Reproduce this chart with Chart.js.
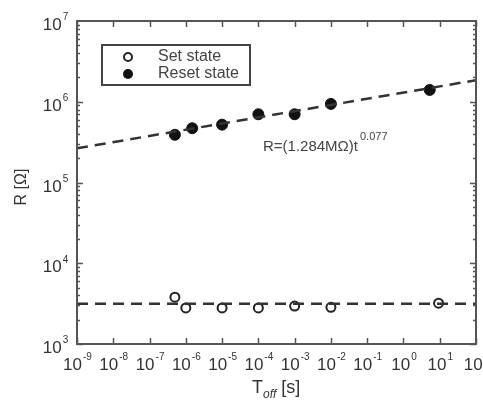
<!DOCTYPE html>
<html><head><meta charset="utf-8">
<script src="https://cdn.jsdelivr.net/npm/chart.js@4/dist/chart.umd.min.js"></script>
<style>html,body{margin:0;padding:0;background:#fff}#c{display:block}</style>
</head><body>
<canvas id="c" width="483" height="403"></canvas>
<script>
// ---- data ----
const setTimes   = [5e-7, 1e-6, 1e-5, 1e-4, 1e-3, 1e-2, 9.3];
const setValues  = [3800, 2800, 2800, 2800, 2950, 2850, 3200];
const resetTimes  = [5e-7, 1.5e-6, 1e-5, 1e-4, 1e-3, 1e-2, 5.3];
const resetValues = [3.9e5, 4.7e5, 5.2e5, 7.0e5, 7.0e5, 9.4e5, 1.4e6];
const resetFitX = [1e-9, 100];
const resetFitY = [2.65e5, 1.85e6];
const setFitX = [1e-9, 100];
const setFitY = [3150, 3150];
const xTickExps = [-9,-8,-7,-6,-5,-4,-3,-2,-1,0,1,2];
const yTickExps = [3,4,5,6,7];
const legendLabels = ['Set state', 'Reset state'];
const fitLabel = ['R=(1.284M\u03A9)t', '0.077'];

const pts = (xs, ys) => xs.map((x, i) => ({x, y: ys[i]}));
const FONT = '"Liberation Sans", Arial, sans-serif';
const INK = '#333';

function drawPow(ctx, base, exp, cx, cy, bsize, esize) {
  ctx.font = bsize + 'px ' + FONT;
  const bw = ctx.measureText(base).width;
  ctx.font = esize + 'px ' + FONT;
  const ew = ctx.measureText(exp).width;
  const x0 = cx - (bw + ew) / 2;
  ctx.textBaseline = 'alphabetic';
  ctx.textAlign = 'left';
  ctx.font = bsize + 'px ' + FONT;
  ctx.fillText(base, x0, cy + bsize * 0.36);
  ctx.font = esize + 'px ' + FONT;
  ctx.fillText(exp, x0 + bw + 1, cy - bsize * 0.22);
}

const framePlugin = {
  id: 'frame',
  afterDraw(chart) {
    const ctx = chart.ctx, a = chart.chartArea;
    const xs = chart.scales.x, ys = chart.scales.y;
    ctx.save();
    ctx.strokeStyle = '#555';
    ctx.lineWidth = 1.5;
    xTickExps.forEach(e => {
      const px = Math.round(xs.getPixelForValue(Math.pow(10, e))) + 0.5;
      ctx.beginPath();
      ctx.moveTo(px, a.bottom); ctx.lineTo(px, a.bottom - 6);
      ctx.moveTo(px, a.top); ctx.lineTo(px, a.top + 6);
      ctx.stroke();
    });
    for (let e = 3; e < 7; e++) {
      for (let m = 1; m <= 9; m++) {
        const py = Math.round(ys.getPixelForValue(m * Math.pow(10, e))) + 0.5;
        const len = m === 1 ? 6 : 3;
        ctx.beginPath();
        ctx.moveTo(a.left, py); ctx.lineTo(a.left + len, py);
        ctx.moveTo(a.right, py); ctx.lineTo(a.right - len, py);
        ctx.stroke();
      }
    }
    ctx.lineWidth = 2;
    ctx.strokeStyle = '#555';
    ctx.strokeRect(a.left, a.top, a.right - a.left, a.bottom - a.top);

    ctx.fillStyle = INK;
    xTickExps.forEach(e => {
      const px = xs.getPixelForValue(Math.pow(10, e));
      drawPow(ctx, '10', String(e), px, a.bottom + 20, 17, 10);
    });
    yTickExps.forEach(e => {
      const py = ys.getPixelForValue(Math.pow(10, e));
      drawPow(ctx, '10', String(e), a.left - 22, py + 3, 17, 10);
    });

    ctx.textAlign = 'left'; ctx.textBaseline = 'alphabetic';
    ctx.font = '18px ' + FONT;
    const tx = 252, ty = 393;
    ctx.fillText('T', tx, ty);
    const tw = ctx.measureText('T').width;
    ctx.font = 'italic 12px ' + FONT;
    ctx.fillText('off', tx + tw, ty + 5);
    const ow = ctx.measureText('off').width;
    ctx.font = '18px ' + FONT;
    ctx.fillText(' [s]', tx + tw + ow, ty);

    ctx.save();
    ctx.translate(26, 187);
    ctx.rotate(-Math.PI / 2);
    ctx.textAlign = 'center';
    ctx.font = '16px ' + FONT;
    ctx.fillText('R [\u03A9]', 0, 0);
    ctx.restore();

    ctx.font = '15px ' + FONT;
    ctx.textAlign = 'left';
    ctx.fillStyle = '#444';
    ctx.fillText(fitLabel[0], 263, 151);
    const fw = ctx.measureText(fitLabel[0]).width;
    ctx.font = '11px ' + FONT;
    ctx.fillText(fitLabel[1], 263 + fw + 2, 140);

    ctx.strokeStyle = '#444';
    ctx.lineWidth = 2;
    ctx.strokeRect(102, 45, 148, 40);
    ctx.fillStyle = '#fff';
    ctx.beginPath(); ctx.arc(128, 57, 4, 0, Math.PI * 2); ctx.fill();
    ctx.strokeStyle = '#222';
    ctx.lineWidth = 2;
    ctx.stroke();
    ctx.fillStyle = '#111';
    ctx.beginPath(); ctx.arc(128, 74, 5, 0, Math.PI * 2); ctx.fill();
    ctx.fillStyle = '#444';
    ctx.font = '16px ' + FONT;
    ctx.textBaseline = 'middle';
    ctx.fillText(legendLabels[0], 158, 57);
    ctx.fillText(legendLabels[1], 158, 74);
    ctx.restore();
  }
};

new Chart(document.getElementById('c'), {
  type: 'scatter',
  data: {
    datasets: [
      { label: 'Reset fit', type: 'line', data: pts(resetFitX, resetFitY),
        borderColor: '#333', borderWidth: 2.5, borderDash: [11, 7], pointRadius: 0, fill: false },
      { label: 'Set fit', type: 'line', data: pts(setFitX, setFitY),
        borderColor: '#333', borderWidth: 2.5, borderDash: [11, 7], pointRadius: 0, fill: false },
      { label: legendLabels[0], data: pts(setTimes, setValues),
        pointStyle: 'circle', pointRadius: 4.5, backgroundColor: '#fff', borderColor: '#222', borderWidth: 2 },
      { label: legendLabels[1], data: pts(resetTimes, resetValues),
        pointStyle: 'circle', pointRadius: 5.5, backgroundColor: '#111', borderColor: '#111', borderWidth: 1 }
    ]
  },
  options: {
    responsive: false,
    animation: false,
    layout: { padding: { left: 77, right: 7, top: 21, bottom: 59 } },
    plugins: { legend: { display: false }, tooltip: { enabled: false } },
    scales: {
      x: { type: 'logarithmic', min: 1e-9, max: 100, display: false },
      y: { type: 'logarithmic', min: 1e3, max: 1e7, display: false }
    }
  },
  plugins: [framePlugin]
});
</script>
</body></html>
